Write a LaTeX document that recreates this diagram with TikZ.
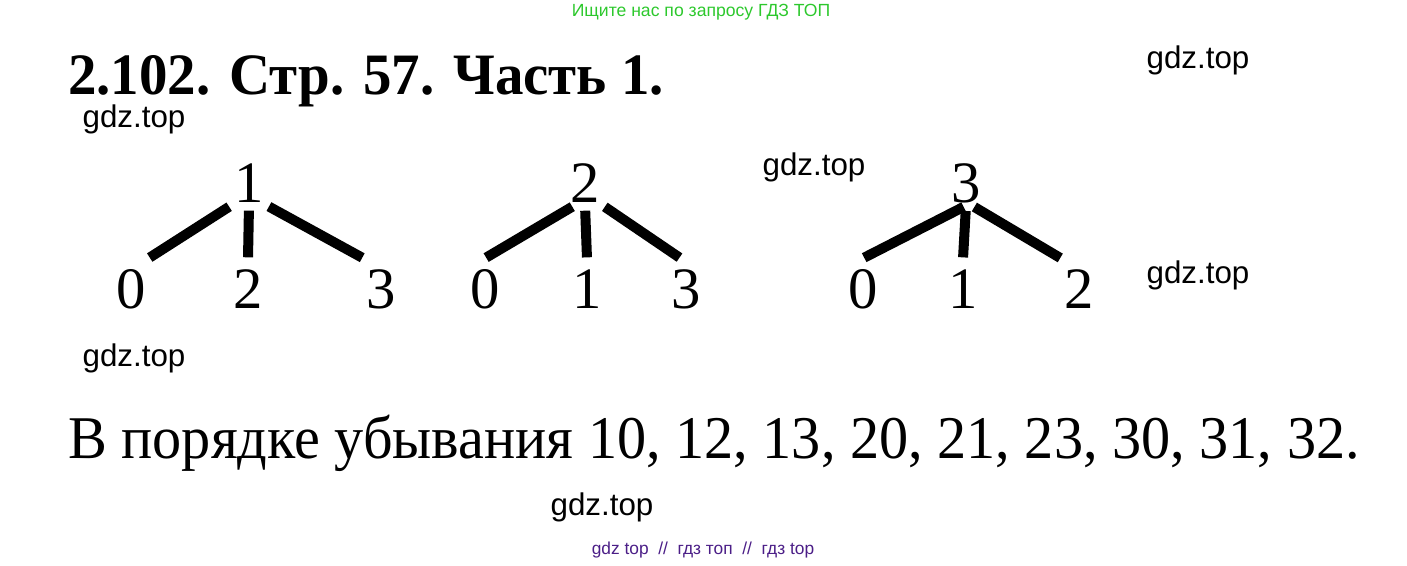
\documentclass[tikz,border=0pt]{standalone}
\usepackage{fontspec}
\setmainfont{Liberation Serif}
\newfontfamily\gdzfont{Liberation Sans}
\newfontfamily\titlefont[FakeStretch=0.97]{Liberation Serif}
\newfontfamily\answerfont[FakeStretch=0.96]{Liberation Serif}
\usetikzlibrary{positioning}
\definecolor{adgreen}{RGB}{45,200,45}
\definecolor{adpurple}{RGB}{75,30,135}
\tikzset{
  digit/.style={font=\fontsize{44}{44}\selectfont, inner xsep=2pt, inner ysep=2pt},
  leaf/.style={digit, inner ysep=8pt},
  edge/.style={line width=7.5pt, shorten <=2pt, shorten >=1pt},
  wmark/.style={font=\gdzfont\fontsize{23.5}{24}\selectfont}
}
\begin{document}
\begin{tikzpicture}[x=0.75pt, y=-0.75pt]
  \useasboundingbox (0,0) rectangle (1407,566);

  \node[font=\gdzfont\fontsize{13.2}{13.2}\selectfont, text=adgreen] (ad) at (701,12) {Ищите нас по запросу ГДЗ ТОП};
  \node[anchor=base west, inner sep=0, font=\titlefont\bfseries\fontsize{44}{44}\selectfont] (title) at (68,95) {2.102. Стр. 57. Часть 1.};

  % tree 1
  \node[digit] (r1) at (249,183) {1};
  \node[leaf] (r1a) at (131,289) {0};
  \node[leaf] (r1b) at (248,289) {2};
  \node[leaf] (r1c) at (381,289) {3};
  \draw[edge] (r1.south west) -- (r1a.north east);
  \draw[edge, shorten <=4pt] (r1.south) -- (r1b.north);
  \draw[edge] (r1.south east) -- (r1c.north west);

  % tree 2
  \node[digit] (r2) at (585,183) {2};
  \node[leaf] (r2a) at (485,289) {0};
  \node[leaf] (r2b) at (587,289) {1};
  \node[leaf] (r2c) at (686,289) {3};
  \draw[edge] (r2.-115) -- (r2a.north);
  \draw[edge, shorten <=4pt] (r2.south) -- (r2b.north);
  \draw[edge] (r2.south east) -- (r2c.100);

  % tree 3
  \node[digit] (r3) at (966,183) {3};
  \node[leaf] (r3a) at (863,289) {0};
  \node[leaf] (r3b) at (963,289) {1};
  \node[leaf] (r3c) at (1079,289) {2};
  \draw[edge] (r3.south) -- (r3a.north);
  \draw[edge, shorten <=4pt] (r3.south) -- (r3b.north);
  \draw[edge] (r3.-75) -- (r3c.north west);

  \node[anchor=base west, inner sep=0, font=\answerfont\fontsize{45.5}{45.5}\selectfont] (answer) at (68,459) {В порядке убывания 10, 12, 13, 20, 21, 23, 30, 31, 32.};

  \node[wmark] (w1) at (1198,60) {gdz.top};
  \node[wmark] (w2) at (134,119) {gdz.top};
  \node[wmark] (w3) at (814,167) {gdz.top};
  \node[wmark] (w4) at (1198,275) {gdz.top};
  \node[wmark] (w5) at (134,358) {gdz.top};
  \node[wmark] (w6) at (602,507) {gdz.top};

  \node[font=\gdzfont\fontsize{13}{13}\selectfont, text=adpurple] (foot) at (703,550) {gdz top\ \ //\ \ гдз топ\ \ //\ \ гдз top};
\end{tikzpicture}
\end{document}
